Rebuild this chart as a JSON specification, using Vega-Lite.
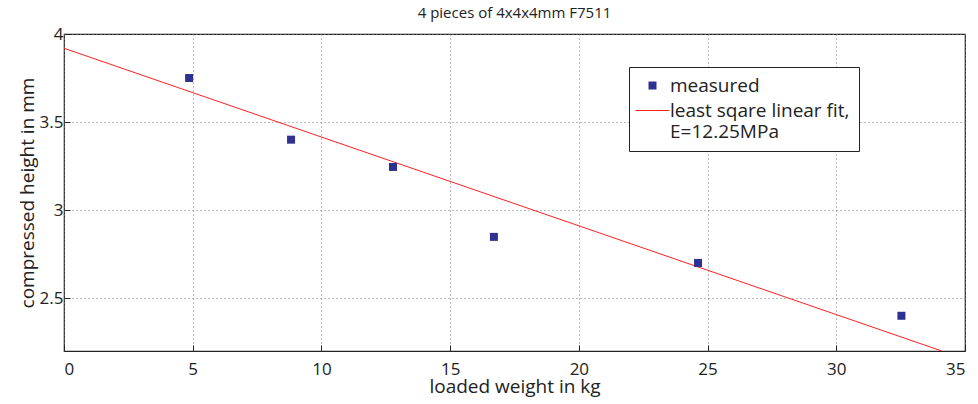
{
  "$schema": "https://vega.github.io/schema/vega-lite/v6.json",
  "width": 901,
  "height": 317,
  "autosize": {"type": "none"},
  "padding": {"left": 64, "top": 34, "right": 13, "bottom": 53},
  "background": "white",
  "title": {"text": "4 pieces of 4x4x4mm F7511", "fontSize": 15, "font": "Open Sans", "fontWeight": "normal", "color": "#222", "offset": 4},
  "config": {
    "font": "Open Sans",
    "view": {"stroke": "#222", "strokeWidth": 1.2},
    "axis": {
      "grid": true, "gridDash": [1, 3], "gridColor": "#777", "gridOpacity": 1,
      "domain": false, "tickSize": -6, "tickColor": "#222",
      "labelFontSize": 17, "labelColor": "#222", "titleFontSize": 19, "titleColor": "#222", "titleFontWeight": "normal"
    },
    "legend": {
      "orient": "none", "legendX": 565, "legendY": 33, "title": null,
      "strokeColor": "#222", "fillColor": "white", "padding": 9,
      "labelFontSize": 19, "labelColor": "#222", "labelLimit": 400, "labelOffset": 8,
      "rowPadding": 5, "symbolSize": 100, "symbolOffset": 5, "symbolStrokeWidth": 0
    }
  },
  "datasets": {
    "measured": [
      {"weight": 4.86, "height": 3.75, "series": "measured"},
      {"weight": 8.82, "height": 3.4, "series": "measured"},
      {"weight": 12.78, "height": 3.245, "series": "measured"},
      {"weight": 16.7, "height": 2.848, "series": "measured"},
      {"weight": 24.63, "height": 2.7, "series": "measured"},
      {"weight": 32.53, "height": 2.4, "series": "measured"}
    ],
    "fit": [
      {"weight": 0, "height": 3.919, "series": "least sqare linear fit,|E=12.25MPa"},
      {"weight": 34.1, "height": 2.2, "series": "least sqare linear fit,|E=12.25MPa"}
    ]
  },
  "layer": [
    {
      "data": {"name": "fit"},
      "mark": {"type": "line", "strokeWidth": 1},
      "encoding": {
        "x": {"field": "weight", "type": "quantitative", "scale": {"domain": [0, 35], "nice": false}, "axis": {"values": [0,5,10,15,20,25,30,35], "title": "loaded weight in kg", "labelPadding": 16, "titlePadding": 0}},
        "y": {"field": "height", "type": "quantitative", "scale": {"domain": [2.2, 4], "nice": false, "zero": false}, "axis": {"values": [2.5, 3, 3.5, 4], "format": "~g", "title": "compressed height in mm", "labelPadding": 7, "titlePadding": 2}},
        "color": {"field": "series", "type": "nominal", "scale": {"domain": ["measured", "least sqare linear fit,|E=12.25MPa"], "range": ["#2e3192", "#ff2020"]}, "legend": {"labelExpr": "split(replace(datum.label, ',|', ',          |'), '|')"}}
      }
    },
    {
      "data": {"name": "measured"},
      "mark": {"type": "point", "filled": true, "size": 100, "opacity": 1, "strokeWidth": 0},
      "encoding": {
        "x": {"field": "weight", "type": "quantitative"},
        "y": {"field": "height", "type": "quantitative"},
        "color": {"field": "series", "type": "nominal", "legend": {"labelExpr": "split(replace(datum.label, ',|', ',          |'), '|')"}},
        "shape": {"field": "series", "type": "nominal", "scale": {"domain": ["measured", "least sqare linear fit,|E=12.25MPa"], "range": ["M-0.8,-0.8H0.8V0.8H-0.8Z", "M-3.4,-0.12H3.4V0.12H-3.4Z"]}, "legend": {"labelExpr": "split(replace(datum.label, ',|', ',          |'), '|')"}}
      }
    }
  ]
}
